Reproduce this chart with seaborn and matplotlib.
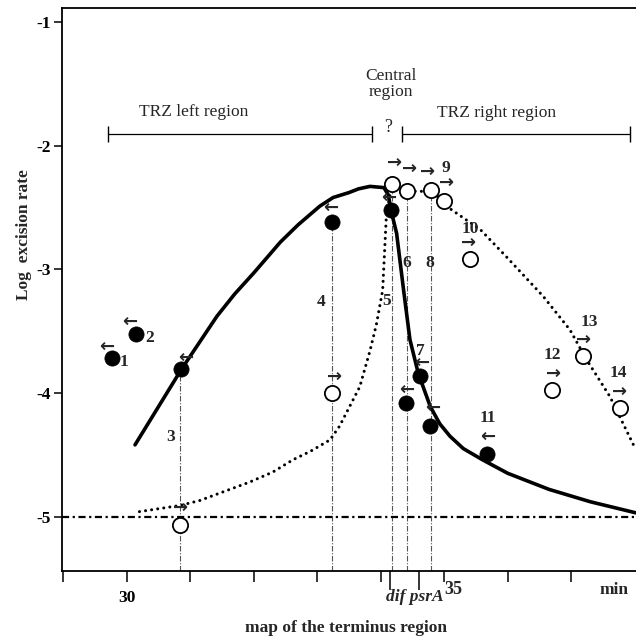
import matplotlib
matplotlib.use("Agg")
import matplotlib.pyplot as plt
import seaborn as sns

# ---------------- data ----------------
filled_id = [1, 2, 3, 4, 5, 6, 7, 8, 11]
filled_pos = [29.77, 30.15, 30.86, 33.24, 34.16, 34.39, 34.62, 34.78, 35.68]
filled_log = [-3.72, -3.52, -3.81, -2.62, -2.52, -4.08, -3.86, -4.27, -4.49]

open_id = [3, 4, 5, 6, 8, 9, 10, 12, 13, 14]
open_pos = [30.84, 33.24, 34.18, 34.42, 34.79, 34.99, 35.40, 36.70, 37.18, 37.77]
open_log = [-5.07, -4.00, -2.31, -2.37, -2.36, -2.45, -2.92, -3.98, -3.70, -4.12]

solid_pos = [30.13, 30.86, 31.42, 31.70, 32.00, 32.42, 32.70, 33.04, 33.25, 33.50,
             33.65, 33.83, 34.05, 34.12, 34.16, 34.25, 34.36, 34.46, 34.59, 34.78,
             34.93, 35.09, 35.30, 35.60, 36.00, 36.65, 37.30, 38.02]
solid_log = [-4.42, -3.81, -3.38, -3.20, -3.03, -2.78, -2.64, -2.49, -2.42, -2.38,
             -2.35, -2.33, -2.34, -2.40, -2.52, -2.71, -3.17, -3.57, -3.84, -4.11,
             -4.25, -4.35, -4.45, -4.54, -4.65, -4.78, -4.88, -4.97]

dotted_pos = [30.20, 30.84, 31.15, 31.94, 32.30, 32.62, 32.90, 33.20, 33.35, 33.50,
              33.67, 33.83, 33.93, 34.03, 34.09, 34.18, 34.42, 34.60, 34.79, 34.99,
              35.09, 35.57, 35.98, 36.56, 36.98, 37.24, 37.61, 37.98]
dotted_log = [-4.96, -4.91, -4.87, -4.72, -4.64, -4.54, -4.47, -4.38, -4.27, -4.12,
              -3.95, -3.66, -3.45, -3.17, -2.55, -2.31, -2.37, -2.37, -2.37, -2.45,
              -2.51, -2.68, -2.90, -3.22, -3.49, -3.73, -4.03, -4.42]

baseline_log = -5.0
paired_ids = [3, 4, 5, 6, 8]          # ids with a vertical drop line

y_ticks = [-1, -2, -3, -4, -5]
y_tick_labels = ["-1", "-2", "-3", "-4", "-5"]
x_ticks = [29, 30, 31, 32, 33, 34, 35, 36, 37]
x_tick_labels = ["", "30", "", "", "", "", "", "", ""]
marker_ticks = [34.15, 34.61]          # dif, psrA

# direction of the arrow drawn above each point
filled_dir = {1: "←", 2: "←", 3: "←", 4: "←", 5: "←", 6: "←", 7: "←", 8: "←", 11: "←"}
open_dir = {3: "→", 4: "→", 5: "→", 6: "→", 8: "→", 9: "→", 10: "→", 12: "→", 13: "→", 14: "→"}

# ---------------- style / layout ----------------
sns.set_theme(style="ticks")
plt.rcParams["font.family"] = ["Liberation Serif", "DejaVu Serif"]

fig = plt.figure(figsize=(6.36, 6.43), dpi=100)
W, H = 636, 643
ax = fig.add_axes([62 / W, (H - 571) / H, (636 - 62) / W, (571 - 8.3) / H])

ax.set_xlim(28.98, 38.02)
ax.set_ylim(-5.44, -0.89)

# vertical drop lines
for pid in paired_ids:
    xo = open_pos[open_id.index(pid)]
    top = max(open_log[open_id.index(pid)], filled_log[filled_id.index(pid)])
    ax.vlines(xo, -5.44, top, colors="#555555", linewidth=0.8,
              linestyles=(0, (5, 1.5, 1, 1.5)), zorder=1)

# baseline dash-dot
ax.axhline(baseline_log, color="black", linewidth=1.6,
           linestyle=(0, (3.2, 1.6, 1.0, 1.6)), zorder=2)

# curves
sns.lineplot(x=solid_pos, y=solid_log, sort=False, estimator=None, ax=ax,
             color="black", linewidth=2.6, zorder=3)
sns.lineplot(x=dotted_pos, y=dotted_log, sort=False, estimator=None, ax=ax,
             color="black", linewidth=2.2, linestyle=(0, (0.01, 2.0)),
             dash_capstyle="round", zorder=3)

# points
sns.scatterplot(x=open_pos, y=open_log, ax=ax, s=120, color="white",
                edgecolor="black", linewidth=1.3, zorder=5)
sns.scatterplot(x=filled_pos, y=filled_log, ax=ax, s=120, color="black",
                edgecolor="black", linewidth=0.5, zorder=6)

# arrows above points (offsets in pixels)
arrow_off_filled = {1: (-5, 11), 2: (-7, 12), 3: (4, 12), 4: (-2, 14), 5: (-2, 12),
                    6: (1, 13), 7: (2, 13), 8: (2, 18), 11: (0, 17)}
arrow_off_open = {3: (0, 17), 4: (2, 16), 5: (2, 21), 6: (2, 22), 8: (-3, 18),
                  9: (3, 18), 10: (-1, 16), 12: (1, 17), 13: (1, 16), 14: (-1, 16)}
arrow_font = dict(fontsize=13, fontweight="bold", family=["DejaVu Sans"],
                  ha="center", va="center", zorder=7)
for pid, xv, yv in zip(filled_id, filled_pos, filled_log):
    ax.annotate(filled_dir[pid], (xv, yv), xytext=arrow_off_filled[pid],
                textcoords="offset pixels", **arrow_font)
for pid, xv, yv in zip(open_id, open_pos, open_log):
    ax.annotate(open_dir[pid], (xv, yv), xytext=arrow_off_open[pid],
                textcoords="offset pixels", **arrow_font)

# number labels (offsets in pixels, relative to a reference point)
label_off = {1: ("f", 12, -4), 2: ("f", 13, -4), 3: ("f", -11, -68), 4: ("f", -11, -80),
             5: ("f", -4, -91), 6: ("o", -1, -72), 7: ("f", 0, 25), 8: ("o", -1, -73),
             9: ("o", 2, 33), 10: ("o", 1, 30), 11: ("f", 0, 36), 12: ("o", 0, 35),
             13: ("o", 7, 34), 14: ("o", -2, 35)}
for pid, (kind, dx, dy) in label_off.items():
    if kind == "f":
        i = filled_id.index(pid)
        xy = (filled_pos[i], filled_log[i])
    else:
        i = open_id.index(pid)
        xy = (open_pos[i], open_log[i])
    ax.annotate(str(pid), xy, xytext=(dx, dy), textcoords="offset pixels",
                ha="center", va="center", fontsize=12.5, fontweight="bold", zorder=7)

# region brackets
ax.plot([29.71, 33.87], [-1.91, -1.91], color="black", linewidth=0.9,
        marker="|", markersize=11, markeredgewidth=1.0)
ax.plot([34.34, 37.93], [-1.91, -1.91], color="black", linewidth=0.9,
        marker="|", markersize=11, markeredgewidth=1.0)
ax.text(31.05, -1.73, "TRZ left region", ha="center", va="center", fontsize=12.5)
ax.text(35.83, -1.74, "TRZ right region", ha="center", va="center", fontsize=12.5)
ax.text(34.11, -1.85, "?", ha="center", va="center", fontsize=13)
ax.text(34.16, -1.50, "Central\nregion", ha="center", va="center", fontsize=12.5,
        linespacing=1.0)

# axes styling
ax.spines["right"].set_visible(False)
for s in ["left", "bottom", "top"]:
    ax.spines[s].set_linewidth(1.3)
    ax.spines[s].set_color("black")

ax.set_yticks(y_ticks)
ax.set_yticklabels(y_tick_labels, fontsize=12.5, fontweight="bold")
ax.set_xticks(x_ticks)
ax.set_xticklabels(x_tick_labels, fontsize=12.5, fontweight="bold")
ax.set_xticks(marker_ticks, minor=True)
ax.tick_params(axis="y", direction="out", length=6, width=1.1, pad=2, colors="black")
ax.tick_params(axis="x", which="major", direction="out", length=8, width=1.1, pad=6,
               colors="black")
ax.tick_params(axis="x", which="minor", direction="out", length=14, width=1.1,
               colors="black")

ax.annotate("35", (35.0, 0), xycoords=("data", "axes fraction"), xytext=(0, -19),
            textcoords="offset pixels", ha="left", va="center", fontsize=13,
            fontweight="bold")
ax.annotate("dif psrA", (35.0, 0), xycoords=("data", "axes fraction"), xytext=(-1, -26),
            textcoords="offset pixels", ha="right", va="center", fontsize=12.5,
            fontweight="bold", style="italic")
ax.annotate("min", (37.67, 0), xycoords=("data", "axes fraction"), xytext=(0, -19),
            textcoords="offset pixels", ha="center", va="center", fontsize=12.5,
            fontweight="bold")

ax.set_xlabel("map of the terminus region", fontsize=12.5, fontweight="bold")
ax.xaxis.set_label_coords(0.495, -0.087)
ax.set_ylabel("Log  excision rate", fontsize=12.5, fontweight="bold")
ax.yaxis.set_label_coords(-0.052, 0.598)

fig.savefig("out.png", dpi=100, facecolor="white")
